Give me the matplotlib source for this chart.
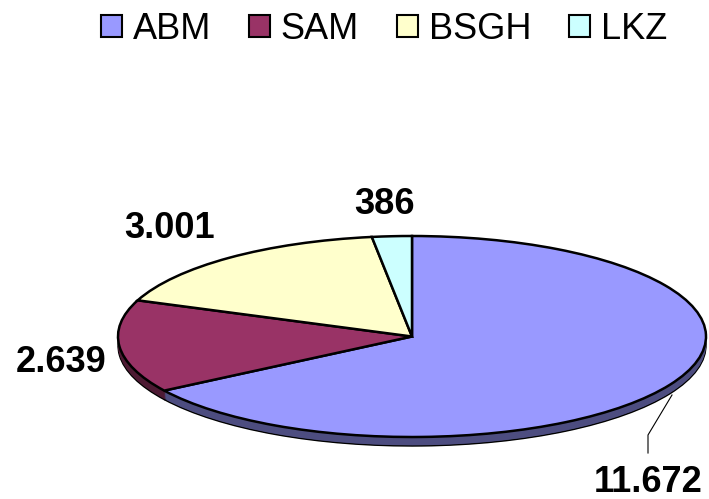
import matplotlib
matplotlib.use('Agg')
import matplotlib.pyplot as plt
from matplotlib.lines import Line2D
from matplotlib.patches import Patch

plt.rcParams['font.family'] = ['Liberation Sans', 'DejaVu Sans']

categories = ['ABM', 'SAM', 'BSGH', 'LKZ']
values = [11672, 2639, 3001, 386]
colors = ['#9999FF', '#993366', '#FFFFCC', '#CCFFFF']
dark_colors = ['#4D4D80', '#4D1A33', '#80805F', '#668080']

W, H = 709, 499


def fx(x):
    return x / W


def fy(y):
    return 1 - y / H


fig = plt.figure(figsize=(W / 100, H / 100), dpi=100)

# the axes box is the bounding box of the top ellipse
left, right, top, bottom = 118, 706, 236, 437
ax = fig.add_axes([fx(left), fy(bottom), (right - left) / W, (bottom - top) / H])

# side of the disc: stacked copies going downwards, thin outline on the lowest one
depth = 9 / ((bottom - top) / 2)
steps = 10
for i in range(steps, 0, -1):
    edge = 'black' if i == steps else 'none'
    ax.pie(values, colors=dark_colors, startangle=90, counterclock=False,
           center=(0, -depth * i / steps),
           wedgeprops=dict(edgecolor=edge, linewidth=1.0, clip_on=False))

ax.pie(values, colors=colors, startangle=90, counterclock=False,
       wedgeprops=dict(edgecolor='black', linewidth=1.8, clip_on=False))
ax.set_aspect('auto')
ax.set_xlim(-1, 1)
ax.set_ylim(-1, 1)

# value labels
label_pos = [(648, 483), (61, 362), (170, 228), (384, 204)]
for v, (x, y) in zip(values, label_pos):
    fig.text(fx(x), fy(y), f'{v:,}'.replace(',', '.'), ha='center', va='center',
             fontsize=26.1, fontweight='bold', color='black')

# leader line for the largest slice
fig.add_artist(Line2D([fx(672), fx(648), fx(648)], [fy(395), fy(435), fy(453)],
                      color='black', linewidth=0.8))

handles = [Patch(facecolor=c, edgecolor='black', linewidth=1.5) for c in colors]
fig.legend(handles, categories, loc='center', bbox_to_anchor=(fx(384), fy(29.5)), ncol=4,
           frameon=False, fontsize=26, handlelength=0.58, handleheight=0.58,
           handletextpad=0.3, columnspacing=1.05, borderpad=0, borderaxespad=0)

fig.savefig('out.png', dpi=100)
